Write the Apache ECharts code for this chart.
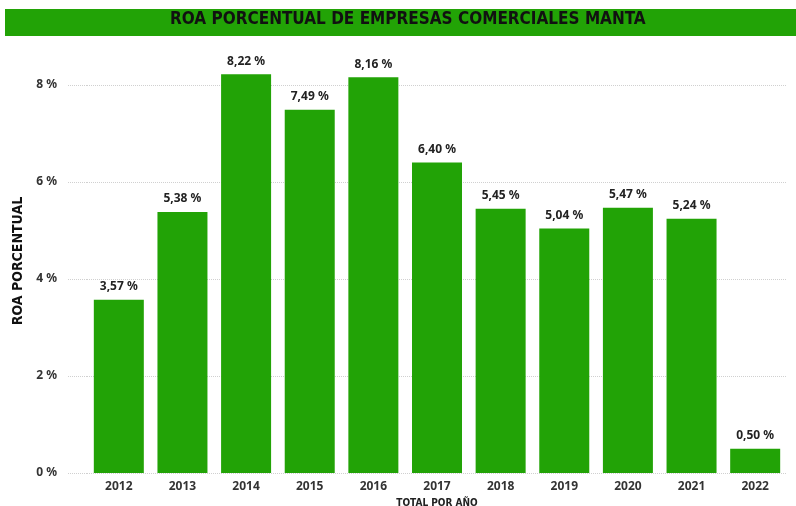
<!DOCTYPE html>
<html>
<head>
<meta charset="utf-8">
<script src="https://cdn.jsdelivr.net/npm/echarts@6/dist/echarts.min.js"></script>
<style>
html,body{margin:0;padding:0;background:#fff;}
#main{width:796px;height:506px;}
</style>
</head>
<body>
<div id="main"></div>
<script>
// datos ROA por año
var years = ["2012","2013","2014","2015","2016","2017","2018","2019","2020","2021","2022"];
var roaValues = [3.57, 5.38, 8.22, 7.49, 8.16, 6.40, 5.45, 5.04, 5.47, 5.24, 0.50];

var chart = echarts.init(document.getElementById("main"));
var verde = '#22a306';
var gridColor = '#d0d0d0';
var narrow = '"DejaVu Sans Condensed", sans-serif';

var option = {
    animation: false,
    graphic: [{
        type: 'rect',
        left: 5,
        top: 9,
        shape: { width: 791, height: 27 },
        style: { fill: verde }
    }, {
        type: 'text',
        left: 170,
        top: 11,
        style: {
            text: 'ROA PORCENTUAL DE EMPRESAS COMERCIALES MANTA',
            font: 'bold 17px ' + narrow,
            fill: '#111'
        }
    }],
    grid: {
        left: 87,
        right: 9,
        top: 85,
        bottom: 33,
        outerBoundsMode: 'none'
    },
    xAxis: {
        type: 'category',
        data: years,
        name: 'TOTAL POR AÑO',
        nameLocation: 'middle',
        nameGap: 25,
        nameTextStyle: { color: '#222', fontWeight: 'bold', fontSize: 10, fontFamily: narrow },
        axisLine: { show: false },
        axisTick: { show: false },
        axisLabel: { color: '#333', fontWeight: 'bold', fontSize: 12, fontFamily: '"Noto Sans", sans-serif', margin: 8 }
    },
    yAxis: {
        type: 'value',
        min: 0,
        max: 8,
        interval: 2,
        name: 'ROA PORCENTUAL',
        nameLocation: 'middle',
        nameGap: 54,
        nameTextStyle: { color: '#111', fontWeight: 'bold', fontSize: 14, fontFamily: narrow, padding: [0, 0, 0, 36] },
        axisLine: { show: false },
        axisTick: { show: true, length: 20, lineStyle: { color: gridColor, type: 'dotted' } },
        axisLabel: {
            color: '#333', fontWeight: 'bold', fontSize: 12, margin: 30,
            fontFamily: '"Noto Sans", sans-serif',
            formatter: function (v) { return v + ' %'; }
        },
        splitLine: { lineStyle: { color: gridColor, type: 'dotted' } }
    },
    series: [{
        type: 'bar',
        data: roaValues,
        barWidth: 50,
        clip: false,
        itemStyle: { color: verde },
        label: {
            show: true,
            position: 'top',
            distance: 7,
            color: '#222',
            fontWeight: 'bold',
            fontSize: 12,
            fontFamily: '"Noto Sans", sans-serif',
            formatter: function (p) { return p.value.toFixed(2).replace('.', ',') + ' %'; }
        }
    }]
};
chart.setOption(option);
</script>
</body>
</html>
